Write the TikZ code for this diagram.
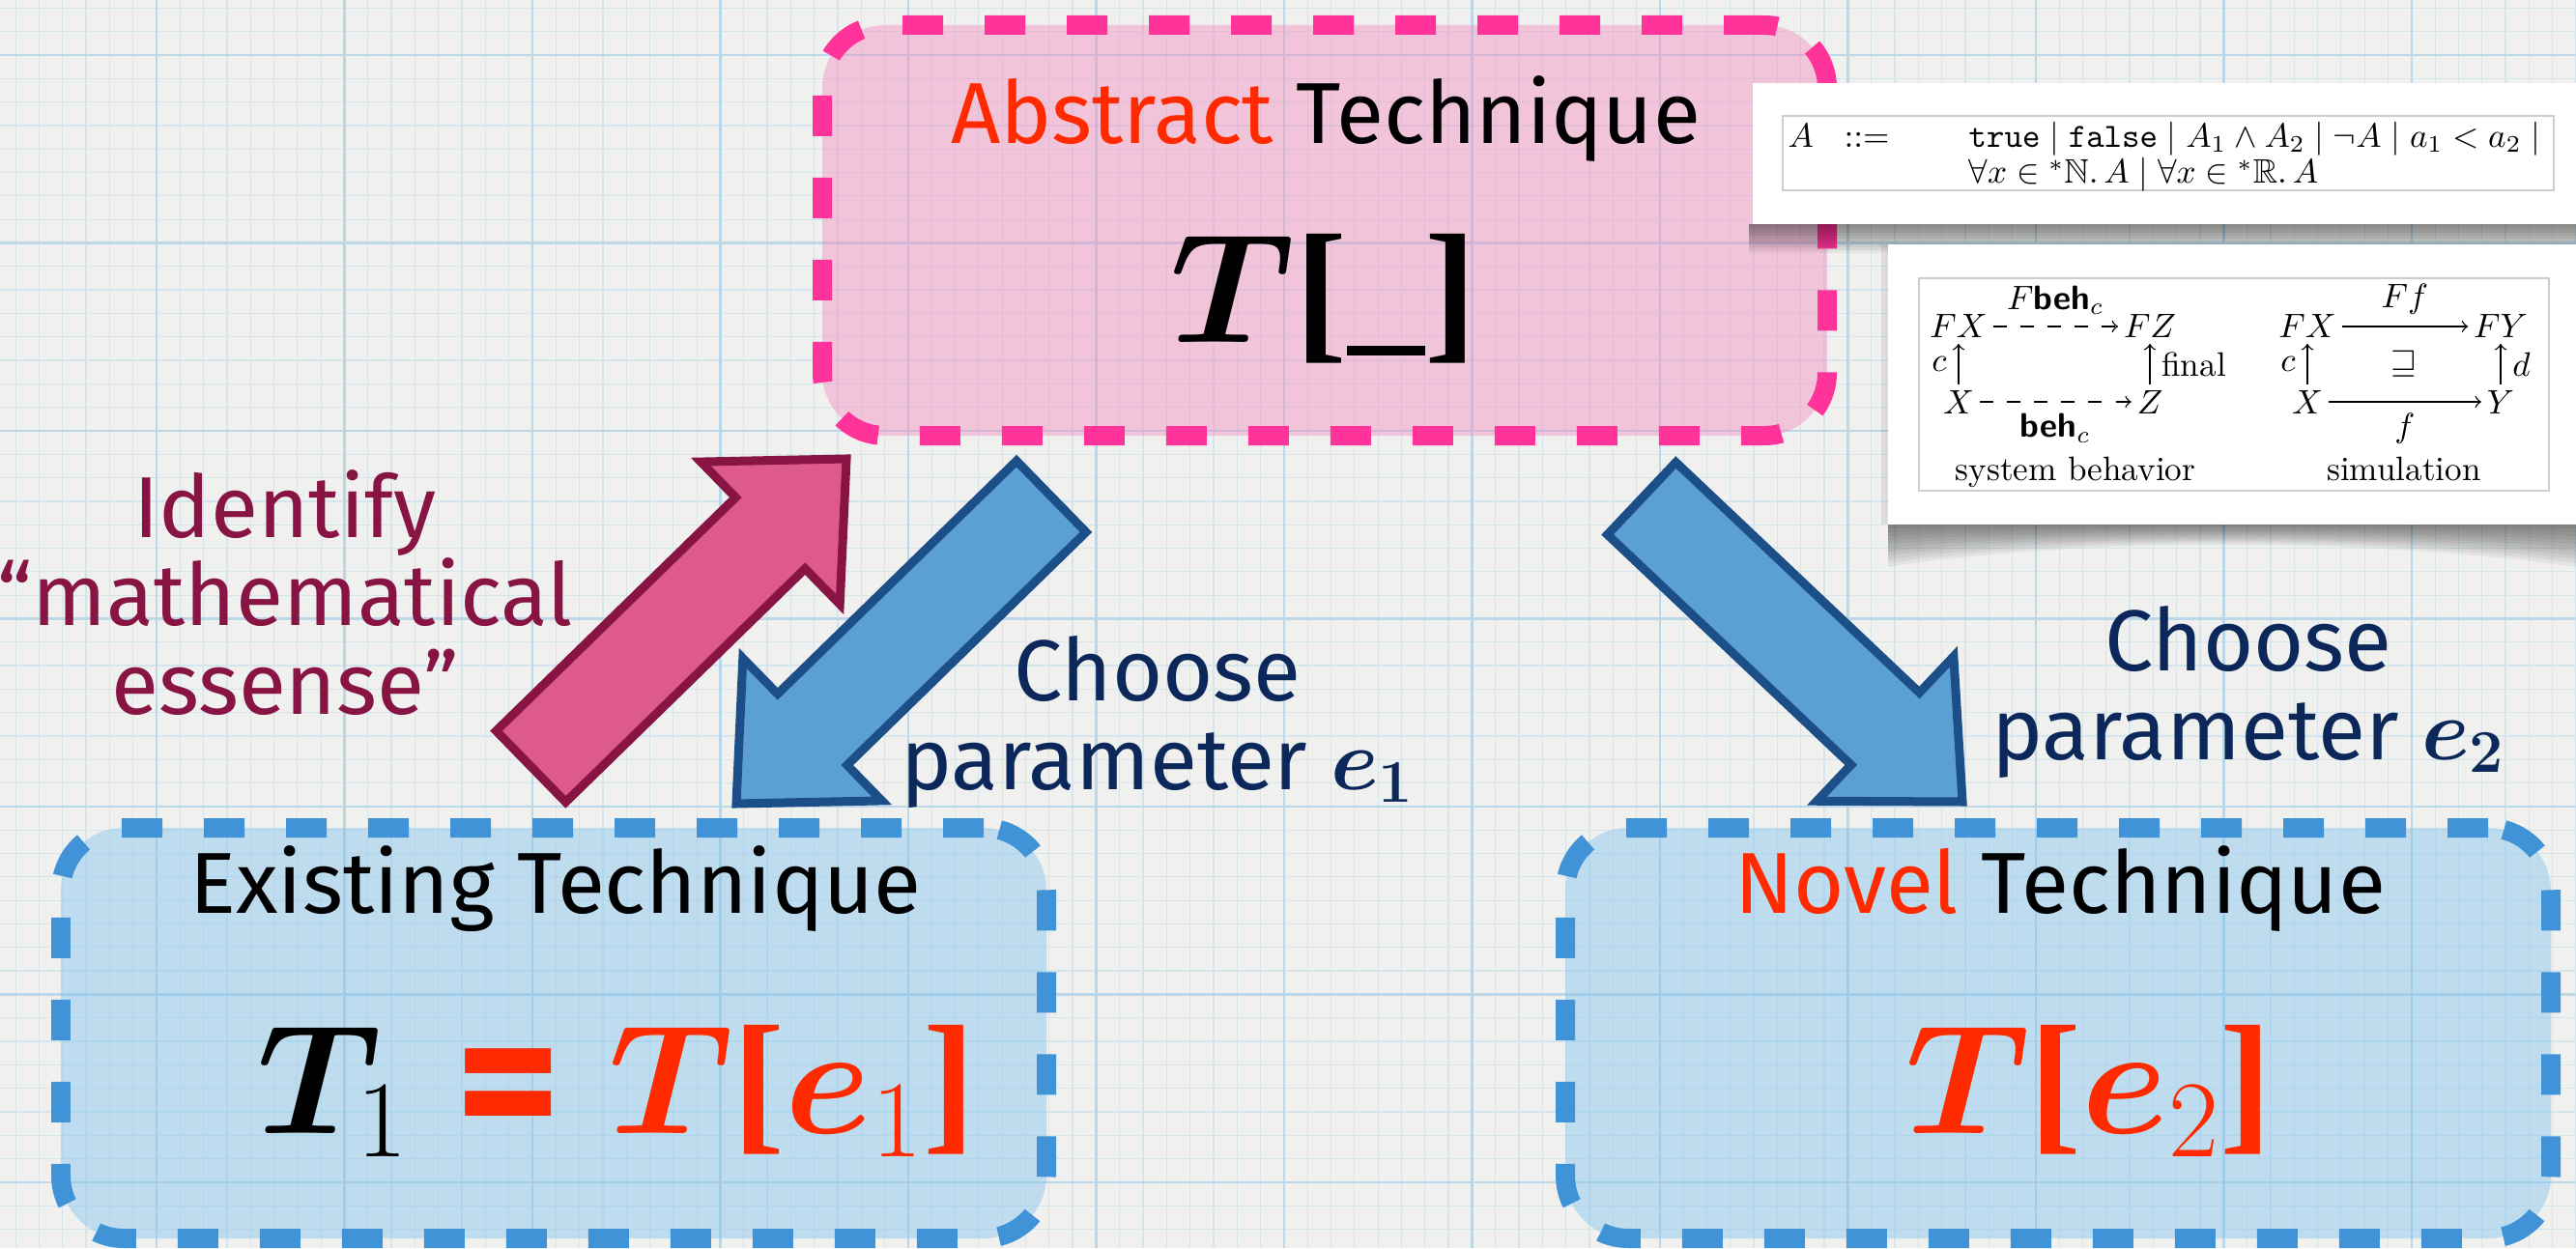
\RequirePackage{fix-cm}
\documentclass[tikz,border=0pt]{standalone}
\usepackage{amsmath, amssymb, bm}
\usepackage[no-math]{fontspec}
\usepackage{xcolor}
\usepackage{tikz}
\usetikzlibrary{calc, positioning}

\newfontfamily\slidefont{Fira Sans}
\newfontfamily\bracketfont{Liberation Serif}

\definecolor{paper}{RGB}{240,240,239}
\definecolor{gridmin}{RGB}{212,229,238}
\definecolor{gridmaj}{RGB}{188,215,232}
\definecolor{pinkdash}{RGB}{255,51,153}
\definecolor{pinkfill}{RGB}{247,130,185}
\definecolor{bluedash}{RGB}{63,147,214}
\definecolor{bluefill}{RGB}{117,192,237}
\definecolor{hilite}{RGB}{255,42,0}
\definecolor{wine}{RGB}{135,20,66}
\definecolor{navy}{RGB}{12,40,90}
\definecolor{identfill}{RGB}{221,90,138}
\definecolor{choosefill}{RGB}{91,160,212}
\definecolor{chooseline}{RGB}{28,78,135}
\definecolor{framegray}{RGB}{205,205,205}

% fat arrow from tail (#2) to tip (#3)
\newcommand{\blockarrow}[3]{%
    \coordinate (hb) at ($(#3)!1.1cm!(#2)$);
    \draw[#1] ($(#2)!0.515cm!90:(#3)$) -- ($(hb)!0.515cm!-90:(#2)$)
        -- ($(hb)!1.03cm!-90:(#2)$) -- (#3) -- ($(hb)!1.03cm!90:(#2)$)
        -- ($(hb)!0.515cm!90:(#2)$) -- ($(#2)!0.515cm!-90:(#3)$) -- cycle;
}
\newcommand{\bbr}[1]{\mbox{\bracketfont\bfseries#1}}

\begin{document}
\begin{tikzpicture}[
    gridminor/.style={gridmin, line width=0.35pt},
    gridmajor/.style={gridmaj, line width=0.8pt},
    techbox/.style={rounded corners=0.65cm, line width=0.2cm,
        dash pattern=on 0.42cm off 0.43cm, minimum width=10.2cm,
        minimum height=4.25cm, fill opacity=0.4, draw opacity=1},
    title/.style={font=\slidefont\fontsize{25.5}{30}\selectfont, anchor=base, inner sep=0pt},
    bigmath/.style={font=\fontsize{46}{50}\selectfont, anchor=base, inner sep=0pt},
    say/.style={font=\slidefont\fontsize{25.5}{26}\selectfont, align=center, inner sep=0pt},
    identarrow/.style={draw=wine, fill=identfill, line width=0.09cm, line join=miter},
    choosearrow/.style={draw=chooseline, fill=choosefill, line width=0.09cm, line join=miter},
    formula/.style={font=\fontsize{10}{12}\selectfont, anchor=base west, inner sep=0pt},
    cd/.style={font=\fontsize{10}{12}\selectfont, anchor=base, inner sep=1.5pt},
    cdarrow/.style={-to, line width=0.4pt},
    cddash/.style={cdarrow, dash pattern=on 4pt off 4pt}
]
    % 1. giấy kẻ ô
    \useasboundingbox (0,0) rectangle (26.66,12.92);
    \fill[paper] (0,0) rectangle (26.66,12.92);
    \foreach \i in {-7,...,103}
        \draw[gridminor] ({1.62+\i*0.2431},0) -- ++(0,12.92);
    \foreach \j in {-2,...,50}
        \draw[gridminor] (0,{12.35-\j*0.2431}) -- ++(26.66,0);
    \foreach \i in {-1,...,13}
        \draw[gridmajor] ({1.62+\i*1.945},0) -- ++(0,12.92);
    \foreach \j in {0,...,6}
        \draw[gridmajor] (0,{12.35-\j*1.945}) -- ++(26.66,0);

    % 2. ba hộp kỹ thuật
    \node[techbox, draw=pinkdash, fill=pinkfill, minimum width=10.4cm] (abstract) at (13.71,10.535) {};
    \node[techbox, draw=bluedash, fill=bluefill] (existing) at (5.73,2.225) {};
    \node[techbox, draw=bluedash, fill=bluefill] (novel) at (21.30,2.225) {};

    \node[title] (abstitle) at ($(abstract.north)+(0.01,-1.32)$)
        {\textcolor{hilite}{Abstract} Technique};
    \node[bigmath] (absterm) at ($(abstract.north)+(-0.01,-3.39)$)
        {$\bm{T}$\bbr{[}\rule[-0.08em]{0.5em}{0.06em}\bbr{]}};
    \node[title] (existtitle) at ($(existing.north)+(0.02,-0.98)$)
        {Existing Technique};
    \node[bigmath] (existterm) at ($(existing.north)+(0.65,-3.26)$)
        {$\bm{T}_{1}$ \textcolor{hilite}{\raisebox{-0.17cm}{\slidefont\bfseries\fontsize{60}{60}\selectfont =}
        $\bm{T}$\bbr{[}$\bm{e}_{1}$\bbr{]}}};
    \node[title] (noveltitle) at ($(novel.north)+(0.02,-0.98)$)
        {\textcolor{hilite}{Novel} Technique};
    \node[bigmath, hilite] (novelterm) at ($(novel.north)+(0.32,-3.26)$)
        {$\bm{T}$\bbr{[}$\bm{e}_{2}$\bbr{]}};

    % 3. mũi tên lớn
    \coordinate (idtail) at ($(existing.north)+(-0.235,0.535)$);
    \coordinate (idtip) at ($(abstract.south)+(-4.95,-0.14)$);
    \coordinate (e1tail) at ($(abstract.south)+(-2.83,-0.53)$);
    \coordinate (e1tip) at ($(existing.north)+(1.89,0.15)$);
    \coordinate (e2tail) at ($(abstract.south)+(3.28,-0.55)$);
    \coordinate (e2tip) at ($(novel.north)+(-0.99,0.17)$);
    \blockarrow{identarrow}{idtail}{idtip}
    \blockarrow{choosearrow}{e1tail}{e1tip}
    \blockarrow{choosearrow}{e2tail}{e2tip}

    \node[say, wine, anchor=north] (identify) at (2.95,8.06)
        {Identify\\“mathematical\\essense”};
    \node[say, navy, anchor=north] (choose1) at (11.98,6.34)
        {Choose\\parameter $\bm{e_1}$};
    \node[say, navy, anchor=north] (choose2) at (23.27,6.65)
        {Choose\\parameter $\bm{e_2}$};

    % 4. hai tấm thẻ trắng
    \foreach \d in {0.03,0.06,...,0.30}
        \fill[black, opacity=0.05] (18.10,10.60) rectangle (26.66,{10.60-\d});
    \fill[white] (18.14,10.60) rectangle (26.66,12.06);
    \draw[framegray] (18.45,10.95) rectangle (26.43,11.72);
    \node[formula] (lhs) at (18.50,11.40) {$A$};
    \node[formula] (defsym) at (19.08,11.40) {$\mathrel{::=}$};
    \node[formula] (alt1) at (20.37,11.40)
        {$\texttt{true} \mid \texttt{false} \mid A_1 \wedge A_2 \mid \neg A \mid a_1 < a_2 \mid$};
    \node[formula] (alt2) at (20.37,11.02)
        {$\forall x \in {}^*\mathbb{N}.\, A \mid \forall x \in {}^*\mathbb{R}.\, A$};

    \foreach \d in {0.04,0.08,...,0.48}
        \fill[black, opacity=0.05] (19.54,7.49) -- (26.66,7.49) -- (26.66,{7.49-\d})
            .. controls (24.5,{7.49-0.3*\d}) and (21.5,{7.49-0.3*\d}) .. (19.54,{7.49-\d}) -- cycle;
    \fill[black, opacity=0.08] (19.47,7.49) rectangle (19.54,10.39);
    \fill[white] (19.54,7.49) rectangle (26.66,10.39);
    \draw[framegray] (19.86,7.84) rectangle (26.38,10.04);

    % sơ đồ giao hoán
    \node[cd] (fx1) at (20.27,9.42) {$FX$};
    \node[cd] (fz) at (22.25,9.42) {$FZ$};
    \node[cd] (x1) at (20.27,8.64) {$X$};
    \node[cd] (z) at (22.25,8.64) {$Z$};
    \draw[cddash] (fx1) -- (fz) node[midway, above] {$F\textsf{\bfseries beh}_c$};
    \draw[cddash] (x1) -- (z) node[midway, below] {$\textsf{\bfseries beh}_c$};
    \draw[cdarrow] (x1) -- (fx1) node[midway, left] {$c$};
    \draw[cdarrow] (z) -- (fz) node[midway, right] {final};

    \node[cd] (fx2) at (23.88,9.42) {$FX$};
    \node[cd] (fy) at (25.88,9.42) {$FY$};
    \node[cd] (x2) at (23.88,8.64) {$X$};
    \node[cd] (y2) at (25.88,8.64) {$Y$};
    \draw[cdarrow] (fx2) -- (fy) node[midway, above] {$Ff$};
    \draw[cdarrow] (x2) -- (y2) node[midway, below] {$f$};
    \draw[cdarrow] (x2) -- (fx2) node[midway, left] {$c$};
    \draw[cdarrow] (y2) -- (fy) node[midway, right] {$d$};
    \node[cd, anchor=center] (order) at ($(fx2)!0.5!(y2)$) {$\sqsupseteq$};

    \node[cd] (behcap) at (21.48,7.94) {system behavior};
    \node[cd] (simcap) at (24.88,7.94) {simulation};
\end{tikzpicture}
\end{document}
